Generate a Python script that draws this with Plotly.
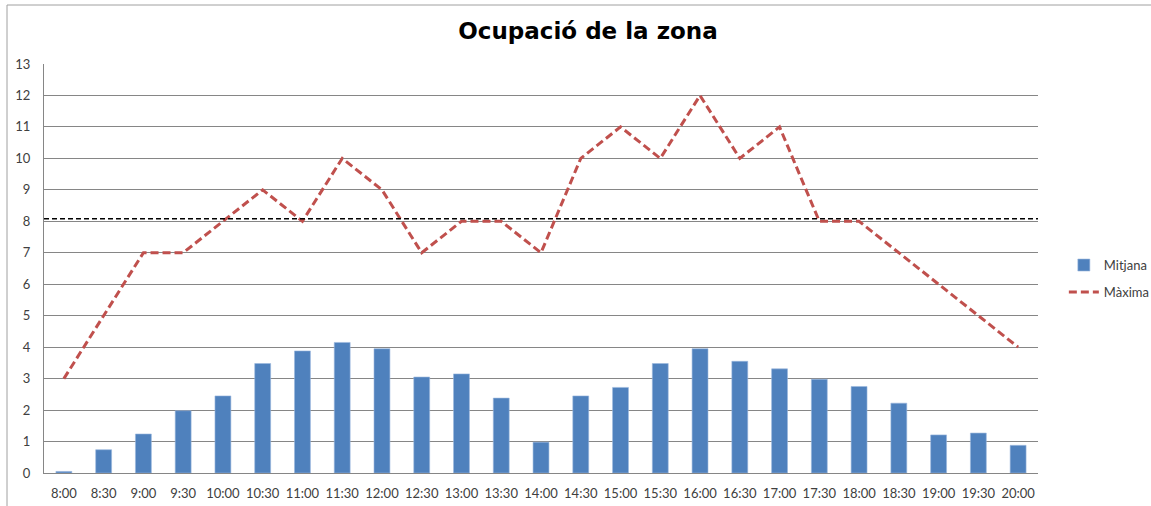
import plotly.graph_objects as go

categories = ["8:00", "8:30", "9:00", "9:30", "10:00", "10:30", "11:00", "11:30", "12:00",
              "12:30", "13:00", "13:30", "14:00", "14:30", "15:00", "15:30", "16:00", "16:30",
              "17:00", "17:30", "18:00", "18:30", "19:00", "19:30", "20:00"]
mitjana = [0.05, 0.74, 1.24, 1.98, 2.45, 3.48, 3.88, 4.15, 3.95, 3.05, 3.15, 2.38, 0.98,
           2.45, 2.72, 3.48, 3.95, 3.55, 3.31, 2.98, 2.75, 2.22, 1.21, 1.27, 0.88]
maxima = [3, 5, 7, 7, 8, 9, 8, 10, 9, 7, 8, 8, 7, 10, 11, 10, 12, 10, 11, 8, 8, 7, 6, 5, 4]
limit_value = 8.08
y_ticks = list(range(0, 14))

FONT = "Lato, 'Open Sans', sans-serif"

fig = go.Figure()
fig.add_trace(go.Bar(x=categories, y=mitjana, name="Mitjana", legendgroup="a",
                     marker=dict(color="#4F81BD", line=dict(color="#9BB7DD", width=0.6)),
                     width=0.4))
fig.add_trace(go.Scatter(x=categories, y=maxima, name="Màxima", mode="lines", legendgroup="b",
                         line=dict(color="#C0504D", width=3, dash="8px,4px")))

# horizontal reference line
fig.add_shape(type="line", xref="paper", yref="y", x0=0, x1=1,
              y0=limit_value, y1=limit_value,
              line=dict(color="black", width=1.6, dash="5px,3px"))

# outer chart border
fig.add_shape(type="rect", xref="paper", yref="paper",
              x0=-37 / 994, x1=1.2, y0=-60 / 409, y1=1 + 59 / 409,
              line=dict(color="#A0A0A0", width=1))

fig.update_layout(
    width=1151, height=506,
    margin=dict(l=44, r=113, t=64, b=33, autoexpand=False),
    paper_bgcolor="white", plot_bgcolor="white",
    font=dict(family=FONT, size=13, color="#404040"),
    title=dict(text="<b>Ocupació de la zona</b>", x=588 / 1151, xanchor="center",
               y=1 - 31 / 506, yanchor="middle",
               font=dict(family="'DejaVu Sans', sans-serif", size=23, color="black")),
    showlegend=True,
    legend=dict(x=1.026, y=0.545, xanchor="left", yanchor="top",
                font=dict(family=FONT, size=13, color="#404040"),
                bgcolor="rgba(0,0,0,0)", tracegroupgap=7),
    xaxis=dict(type="category", showgrid=False, showline=True, linecolor="#868686",
               ticks="", tickfont=dict(size=13), ticklabelstandoff=8, automargin=False),
    yaxis=dict(range=[0, 13], tickvals=y_ticks, showgrid=True, gridcolor="#868686",
               gridwidth=1, showline=True, linecolor="#868686", zeroline=False,
               ticks="", tickfont=dict(size=13), ticklabelstandoff=10, automargin=False),
)

fig.write_html("out.html", config={"displayModeBar": False},
               post_script="document.body.style.margin='0';document.body.style.padding='0';")
